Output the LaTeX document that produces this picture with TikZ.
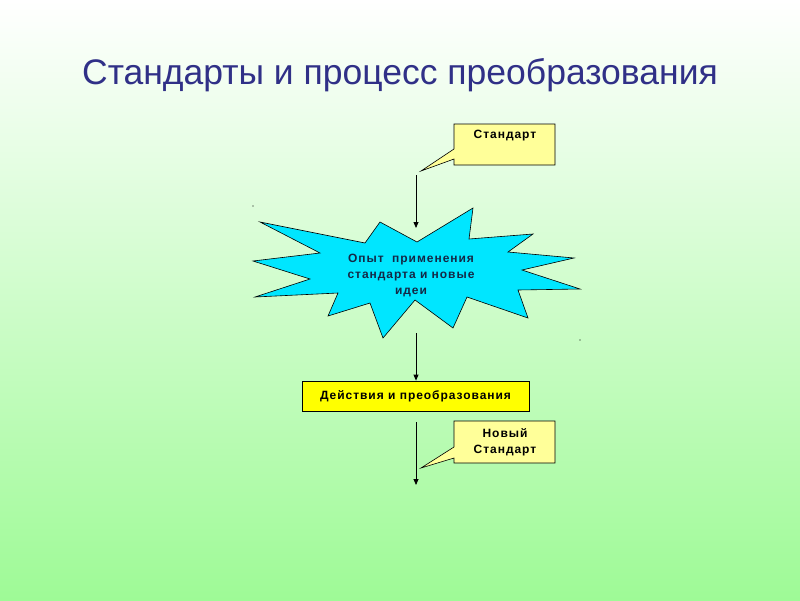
\documentclass[tikz,border=0pt]{standalone}
\usepackage{fontspec}
\setmainfont{Liberation Sans}
\newfontfamily\lblfont[LetterSpace=8]{Liberation Sans}
\usetikzlibrary{arrows.meta}
\definecolor{bgtop}{RGB}{255,255,255}
\definecolor{bgbot}{RGB}{158,250,150}
\definecolor{titleblue}{RGB}{48,48,135}
\definecolor{starcyan}{RGB}{0,230,255}
\definecolor{calloutyellow}{RGB}{255,255,153}
\definecolor{boxyellow}{RGB}{255,255,0}
\definecolor{startext}{RGB}{20,40,70}
\tikzset{
  flow/.style={draw=black, line width=0.8pt, -{Triangle[length=6pt,width=5pt]}},
  callout/.style={draw=black, line width=0.6pt, fill=calloutyellow},
  lbl/.style={font=\lblfont\fontsize{12}{16}\selectfont\bfseries, align=center},
}
\begin{document}
\begin{tikzpicture}[x=1pt,y=-1pt]
\useasboundingbox (0,0) rectangle (800,600);
\shade[top color=bgtop, bottom color=bgbot] (0,0) rectangle (800,600);
% title
\node[text=titleblue, font=\fontsize{35.5}{40}\selectfont] (title) at (400,75) {Стандарты и процесс преобразования};
% star
\draw[fill=starcyan, line width=0.6pt] (473,208) -- (469,239) -- (533,234) -- (508,252) -- (574,258) -- (522,270) -- (580,289) -- (518,290) -- (528,318) -- (467,297) -- (453,328) -- (415,300) -- (383,338) -- (370,303) -- (328,316) -- (338,293) -- (255,297) -- (310,279) -- (253,261) -- (320,253) -- (260,222) -- (365,243) -- (380,222) -- (417,242) -- cycle;
\node[lbl, text=startext] (star) at (411,275) {Опыт\ \ применения\\стандарта и новые\\идеи};
% callout Стандарт
\draw[callout] (454,124) -- (555,124) -- (555,165) -- (454,165) -- (454,159) -- (421,171) -- (454,149) -- cycle;
\node[lbl] (std) at (505,136) {Стандарт};
% action box
\node[draw=black, line width=0.8pt, fill=boxyellow, minimum width=227pt, minimum height=30pt, inner sep=0pt, lbl] (act) at (415.5,396) {Действия и преобразования};
% callout Новый Стандарт
\draw[callout] (454,421) -- (555,421) -- (555,463) -- (454,463) -- (454,458) -- (421,468) -- (454,447) -- cycle;
\node[lbl] (newstd) at (505,442) {Новый\\Стандарт};
% arrows
\coordinate (a1s) at (416,175);
\coordinate (a1e) at (416,228);
\coordinate (a2s) at (416,333);
\coordinate (a3s) at (416,422);
\coordinate (a3e) at (416,485);
\draw[flow] (a1s) -- (a1e);
\draw[flow] (a2s) -- (act.north -| a2s);
\draw[flow] (a3s) -- (a3e);
% small dots
\fill (253,206) circle (0.6);
\fill (580,340) circle (0.6);
\end{tikzpicture}
\end{document}
